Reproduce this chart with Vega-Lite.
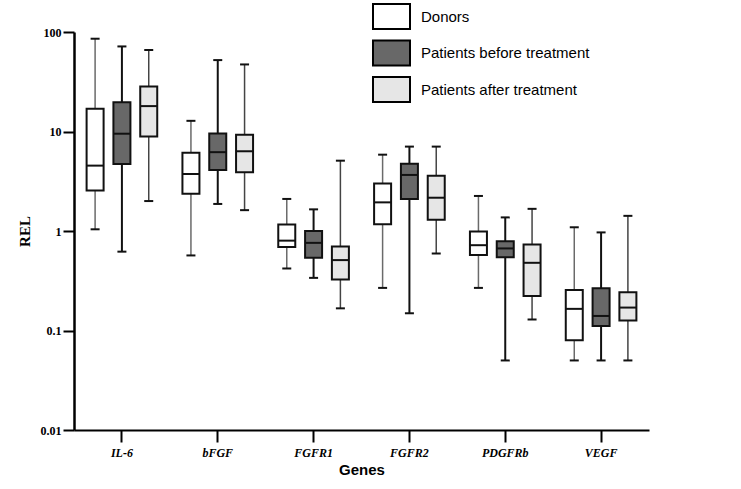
{
  "$schema": "https://vega.github.io/schema/vega-lite/v6.json",
  "width": 575,
  "height": 398,
  "autosize": {"type": "none"},
  "padding": {"left": 74, "top": 32, "right": 92, "bottom": 59},
  "background": "white",
  "config": {"view": {"stroke": null}, "axis": {"grid": false}},
  "data": {"values": [
    {"gene": "IL-6", "group": "Donors", "min": 1.04, "q1": 2.56, "median": 4.54, "q3": 16.9, "max": 85.6},
    {"gene": "IL-6", "group": "Patients before treatment", "min": 0.62, "q1": 4.72, "median": 9.5, "q3": 19.7, "max": 71.6},
    {"gene": "IL-6", "group": "Patients after treatment", "min": 2.0, "q1": 8.89, "median": 18.0, "q3": 28.3, "max": 65.9},
    {"gene": "bFGF", "group": "Donors", "min": 0.568, "q1": 2.37, "median": 3.74, "q3": 6.13, "max": 12.8},
    {"gene": "bFGF", "group": "Patients before treatment", "min": 1.87, "q1": 4.1, "median": 6.2, "q3": 9.53, "max": 52.2},
    {"gene": "bFGF", "group": "Patients after treatment", "min": 1.62, "q1": 3.89, "median": 6.33, "q3": 9.3, "max": 47.2},
    {"gene": "FGFR1", "group": "Donors", "min": 0.42, "q1": 0.69, "median": 0.8, "q3": 1.16, "max": 2.1},
    {"gene": "FGFR1", "group": "Patients before treatment", "min": 0.338, "q1": 0.537, "median": 0.76, "q3": 1.0, "max": 1.65},
    {"gene": "FGFR1", "group": "Patients after treatment", "min": 0.167, "q1": 0.326, "median": 0.51, "q3": 0.7, "max": 5.09},
    {"gene": "FGFR2", "group": "Donors", "min": 0.268, "q1": 1.17, "median": 1.94, "q3": 3.01, "max": 5.85},
    {"gene": "FGFR2", "group": "Patients before treatment", "min": 0.149, "q1": 2.1, "median": 3.66, "q3": 4.75, "max": 7.05},
    {"gene": "FGFR2", "group": "Patients after treatment", "min": 0.594, "q1": 1.3, "median": 2.16, "q3": 3.6, "max": 7.05},
    {"gene": "PDGFRb", "group": "Donors", "min": 0.268, "q1": 0.575, "median": 0.72, "q3": 0.99, "max": 2.25},
    {"gene": "PDGFRb", "group": "Patients before treatment", "min": 0.05, "q1": 0.546, "median": 0.668, "q3": 0.79, "max": 1.37},
    {"gene": "PDGFRb", "group": "Patients after treatment", "min": 0.129, "q1": 0.222, "median": 0.479, "q3": 0.733, "max": 1.67},
    {"gene": "VEGF", "group": "Donors", "min": 0.05, "q1": 0.08, "median": 0.165, "q3": 0.256, "max": 1.09},
    {"gene": "VEGF", "group": "Patients before treatment", "min": 0.05, "q1": 0.111, "median": 0.14, "q3": 0.266, "max": 0.968},
    {"gene": "VEGF", "group": "Patients after treatment", "min": 0.05, "q1": 0.126, "median": 0.17, "q3": 0.243, "max": 1.42}
  ]},
  "encoding": {
    "x": {
      "field": "gene", "type": "nominal", "sort": null,
      "scale": {"paddingInner": 0, "paddingOuter": 0},
      "axis": {
        "title": "Genes", "labelAngle": 0,
        "domainColor": "black", "domainWidth": 2,
        "tickColor": "black", "tickWidth": 2, "tickSize": 12,
        "labelFont": "Liberation Serif", "labelFontStyle": "italic", "labelFontWeight": "bold",
        "labelFontSize": 12, "labelColor": "black", "labelPadding": 5,
        "titleFont": "Liberation Sans", "titleFontWeight": "bold", "titleFontSize": 15,
        "titleColor": "black", "titlePadding": 4
      }
    },
    "xOffset": {
      "field": "group", "type": "nominal",
      "scale": {"domain": ["Donors", "Patients before treatment", "Patients after treatment"], "paddingInner": 0.366, "paddingOuter": 0.47}
    }
  },
  "layer": [
    {
      "mark": {"type": "rule"},
      "encoding": {
        "y": {
          "field": "min", "type": "quantitative", "title": "REL",
          "scale": {"type": "log", "domain": [0.01, 100], "nice": false},
          "axis": {
            "values": [0.01, 0.1, 1, 10, 100], "format": "~g", "labelOverlap": false,
            "domainColor": "black", "domainWidth": 2.5,
            "tickColor": "black", "tickWidth": 2, "tickSize": 11,
            "labelFont": "Liberation Serif", "labelFontWeight": "bold", "labelFontSize": 12,
            "labelColor": "black", "labelPadding": 2,
            "titleFont": "Liberation Serif", "titleFontWeight": "bold", "titleFontSize": 15,
            "titleColor": "black", "titlePadding": 8
          }
        },
        "y2": {"field": "max"},
        "stroke": {
          "condition": [
            {"test": "datum.group === 'Donors'", "value": "#6a6a6a"},
            {"test": "datum.group === 'Patients after treatment'", "value": "#444444"}
          ],
          "value": "#111111"
        },
        "strokeWidth": {
          "condition": {"test": "datum.group === 'Patients before treatment'", "value": 2},
          "value": 1.5
        }
      }
    },
    {
      "mark": {"type": "tick", "orient": "horizontal", "size": 9, "thickness": 2, "color": "#111111", "opacity": 1},
      "encoding": {"y": {"field": "min", "type": "quantitative", "title": "REL"}}
    },
    {
      "mark": {"type": "tick", "orient": "horizontal", "size": 9, "thickness": 2, "color": "#111111", "opacity": 1},
      "encoding": {"y": {"field": "max", "type": "quantitative", "title": "REL"}}
    },
    {
      "mark": {"type": "bar", "stroke": "#111111", "strokeWidth": 2, "opacity": 1},
      "encoding": {
        "y": {"field": "q1", "type": "quantitative", "title": "REL"},
        "y2": {"field": "q3"},
        "fill": {
          "field": "group", "type": "nominal",
          "scale": {"domain": ["Donors", "Patients before treatment", "Patients after treatment"], "range": ["#ffffff", "#686868", "#e6e6e6"]},
          "legend": {
            "orient": "none", "legendX": 304, "legendY": -29, "title": null, "padding": 0,
            "symbolType": "M-1.48,-1H1.48V1H-1.48Z", "symbolSize": 625,
            "symbolStrokeColor": "black", "symbolStrokeWidth": 2, "symbolOpacity": 1,
            "labelFont": "Liberation Sans", "labelFontSize": 15, "labelColor": "black",
            "labelOffset": 16, "rowPadding": 3.5, "labelLimit": 400
          }
        }
      }
    },
    {
      "mark": {"type": "tick", "orient": "horizontal", "size": 17, "thickness": 2, "color": "#111111", "opacity": 1},
      "encoding": {"y": {"field": "median", "type": "quantitative", "title": "REL"}}
    }
  ]
}
